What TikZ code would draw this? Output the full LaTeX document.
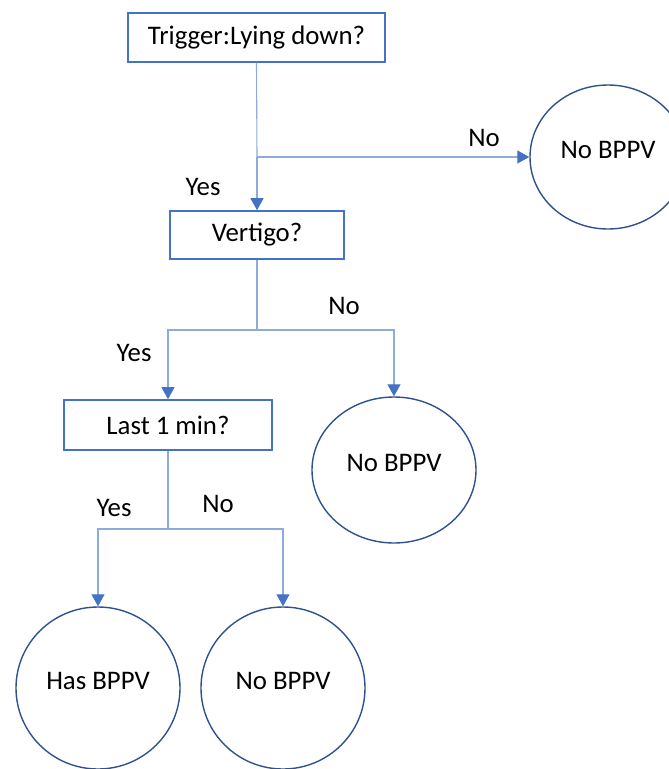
\documentclass[tikz,border=0pt]{standalone}
\usepackage{fontspec}
\setmainfont{Carlito}
\usetikzlibrary{shapes.geometric,arrows.meta}
\definecolor{boxblue}{HTML}{4472C4}
\definecolor{circblue}{HTML}{2F528F}
\definecolor{linkblue}{HTML}{8FAADC}
\begin{document}
\begin{tikzpicture}[x=1pt,y=-1pt,
  every node/.style={font=\fontsize{26.8}{30}\selectfont, text=black},
  qbox/.style={draw=boxblue, line width=1.6pt, rectangle, inner sep=0pt, fill=white},
  endnode/.style={draw=circblue, line width=1.4pt, ellipse, inner sep=0pt, fill=white, text height=17pt, text depth=15pt},
  conn/.style={draw=linkblue, line width=1.1pt},
  arr/.style={conn, -{Triangle[length=12pt,width=13pt,color=boxblue]}},
  lbl/.style={inner sep=0pt}]
\useasboundingbox (0,0) rectangle (669,769);
\clip (0,0) rectangle (669,769);
% nodes
\node[qbox, minimum width=257pt, minimum height=49pt] (b1) at (256.5,37.5) {Trigger:Lying down?};
\node[qbox, minimum width=174pt, minimum height=48pt] (b2) at (257,235) {Vertigo?};
\node[qbox, minimum width=208pt, minimum height=50pt] (b3) at (168,425) {Last 1 min?};
\node[endnode, minimum width=156pt, minimum height=144pt] (c1) at (608,157) {No BPPV};
\node[endnode, minimum width=164pt, minimum height=146pt] (c2) at (394,470) {No BPPV};
\node[endnode, minimum width=164pt, minimum height=162pt] (c3) at (98,688) {Has BPPV};
\node[endnode, minimum width=164pt, minimum height=162pt] (c4) at (283,688) {No BPPV};
% junctions
\coordinate (j1) at (257,157);
\coordinate (j2) at (257,330);
\coordinate (j3) at (168,529);
% connectors
\draw[conn] (b1.south) -- (j1);
\draw[arr] (j1) -- (b2.north);
\draw[arr] (j1) -- (c1.west);
\draw[conn] (b2.south) -- (j2);
\draw[arr] (j2) -| (b3.north);
\draw[arr] (j2) -| (c2.north);
\draw[conn] (b3.south) -- (j3);
\draw[arr] (j3) -| (c3.north);
\draw[arr] (j3) -| (c4.north);
% labels
\node[lbl] (l1) at (484,138) {No};
\node[lbl] (l2) at (203,187) {Yes};
\node[lbl] (l3) at (344,306) {No};
\node[lbl] (l4) at (134,353) {Yes};
\node[lbl] (l5) at (114,508) {Yes};
\node[lbl] (l6) at (218,504) {No};
\end{tikzpicture}
\end{document}
